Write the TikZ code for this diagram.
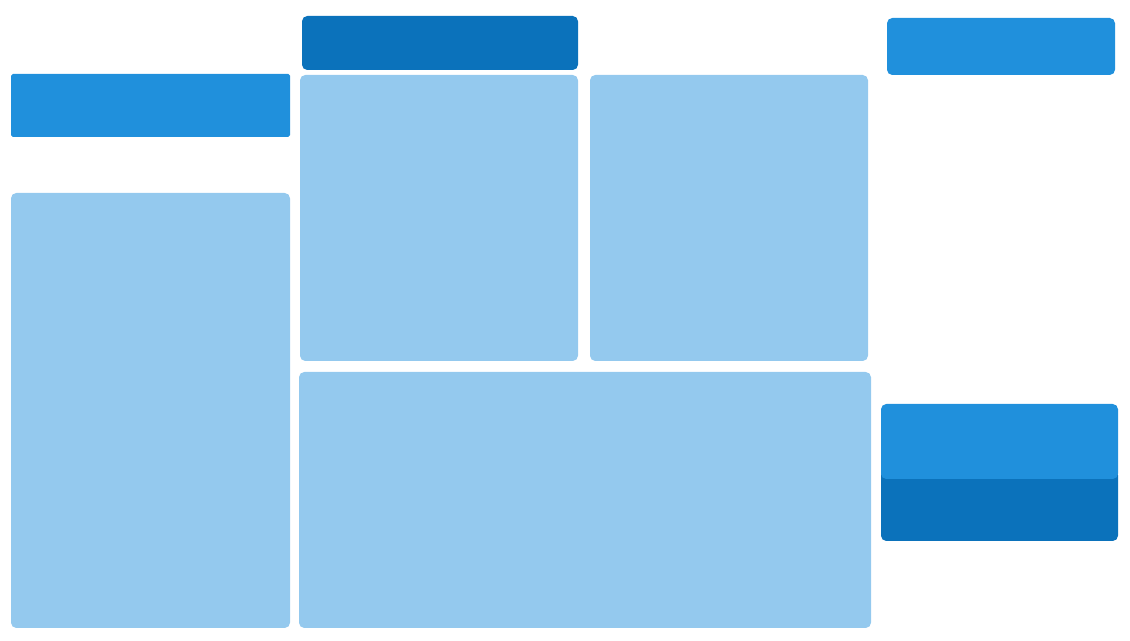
\documentclass[tikz,border=0pt]{standalone}
\usepackage{tikz}
\definecolor{paleblue}{RGB}{148,201,238}
\definecolor{midblue}{RGB}{32,144,220}
\definecolor{deepblue}{RGB}{11,114,187}
\tikzset{
	pane/.style={fill=paleblue, rounded corners=3pt},
	bar/.style={fill=midblue, rounded corners=3pt},
	darkbar/.style={fill=deepblue, rounded corners=3pt}
}

\begin{document}
\begin{tikzpicture}[x=0.02cm, y=-0.02cm]
	\useasboundingbox (0,0) rectangle (1130,641);
	% left column
	\fill[bar, rounded corners=1pt] (11,74) rectangle (290,137);
	\fill[pane] (11,193) rectangle (290,628);
	% middle
	\fill[darkbar] (302,16) rectangle (578,70);
	\fill[pane] (300,75) rectangle (578,361);
	\fill[pane] (590,75) rectangle (868,361);
	\fill[pane] (299,372) rectangle (871,628);
	% right column
	\fill[bar] (887,18) rectangle (1115,75);
	\fill[darkbar] (881,470) rectangle (1118,541);
	\fill[bar] (881,404) rectangle (1118,479);
	\end{tikzpicture}
\end{document}
